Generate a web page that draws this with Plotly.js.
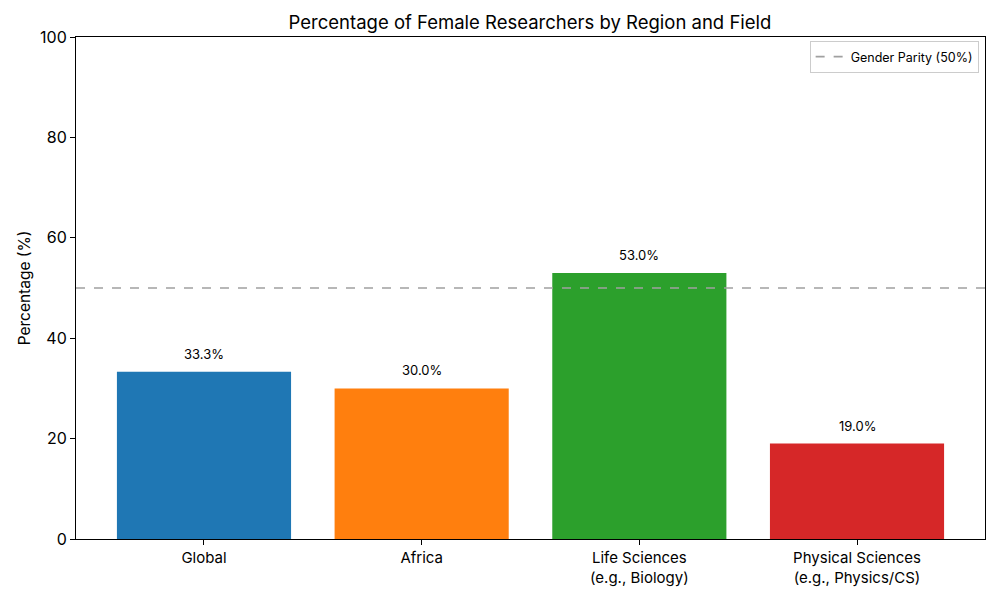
<!DOCTYPE html>
<html>
<head>
<meta charset="utf-8">
<script src="https://cdn.plot.ly/plotly-3.0.1.min.js"></script>
<style>html,body{margin:0;padding:0;background:#fff}#chart{width:1000px;height:600px}</style>
</head>
<body>
<div id="chart"></div>
<script>
const categories = ["Global", "Africa", "Life Sciences<br>(e.g., Biology)", "Physical Sciences<br>(e.g., Physics/CS)"];
const percentages = [33.3, 30.0, 53.0, 19.0];
const barColors = ["#1f77b4", "#ff7f0e", "#2ca02c", "#d62728"];
const parityValue = 50;
const parityLabel = "Gender Parity (50%)";
const yTicks = [0, 20, 40, 60, 80, 100];

const FONT = "Inter, Roboto, 'DejaVu Sans', sans-serif";

const trace = {
  type: "bar",
  x: categories,
  y: percentages,
  marker: {color: barColors},
  width: 0.8,
  showlegend: false,
  hoverinfo: "skip"
};

const annotations = categories.map((c, i) => ({
  x: c, y: percentages[i], xref: "x", yref: "y",
  text: percentages[i].toFixed(1) + "%",
  showarrow: false, yanchor: "bottom", yshift: 8,
  font: {family: FONT, size: 13, color: "#000"}
}));

const layout = {
  width: 1000, height: 600,
  margin: {l: 76, r: 15, t: 37, b: 61},
  paper_bgcolor: "#fff", plot_bgcolor: "#fff",
  font: {family: FONT, color: "#000"},
  title: {text: "Percentage of Female Researchers by Region and Field", x: 0.53, xanchor: "center", y: 0.963, yanchor: "middle", font: {size: 18.5, family: FONT}},
  xaxis: {
    type: "category", range: [-0.588, 3.588],
    showline: true, linecolor: "#000", linewidth: 1, mirror: true,
    ticks: "outside", ticklen: 5, tickcolor: "#000",
    showgrid: false, zeroline: false,
    tickfont: {size: 15, family: FONT}
  },
  yaxis: {
    range: [0, 100], tickvals: yTicks,
    showline: true, linecolor: "#000", linewidth: 1, mirror: true,
    ticks: "outside", ticklen: 5, tickcolor: "#000",
    showgrid: false, zeroline: false,
    tickfont: {size: 16, family: FONT},
    title: {text: "Percentage (%)", font: {size: 15.5, family: FONT}, standoff: 5}
  },
  shapes: [{
    type: "line", xref: "paper", x0: 0, x1: 1, yref: "y", y0: parityValue, y1: parityValue,
    line: {color: "#a0a0a0", width: 1.6, dash: "dash"},
    showlegend: true, name: parityLabel
  }],
  legend: {
    x: 0.993, y: 0.992, xanchor: "right", yanchor: "top",
    bordercolor: "#cccccc", borderwidth: 1, bgcolor: "#fff",
    font: {size: 12.5, family: FONT}
  },
  annotations: annotations
};

Plotly.newPlot("chart", [trace], layout, {displayModeBar: false, staticPlot: true});
</script>
</body>
</html>
